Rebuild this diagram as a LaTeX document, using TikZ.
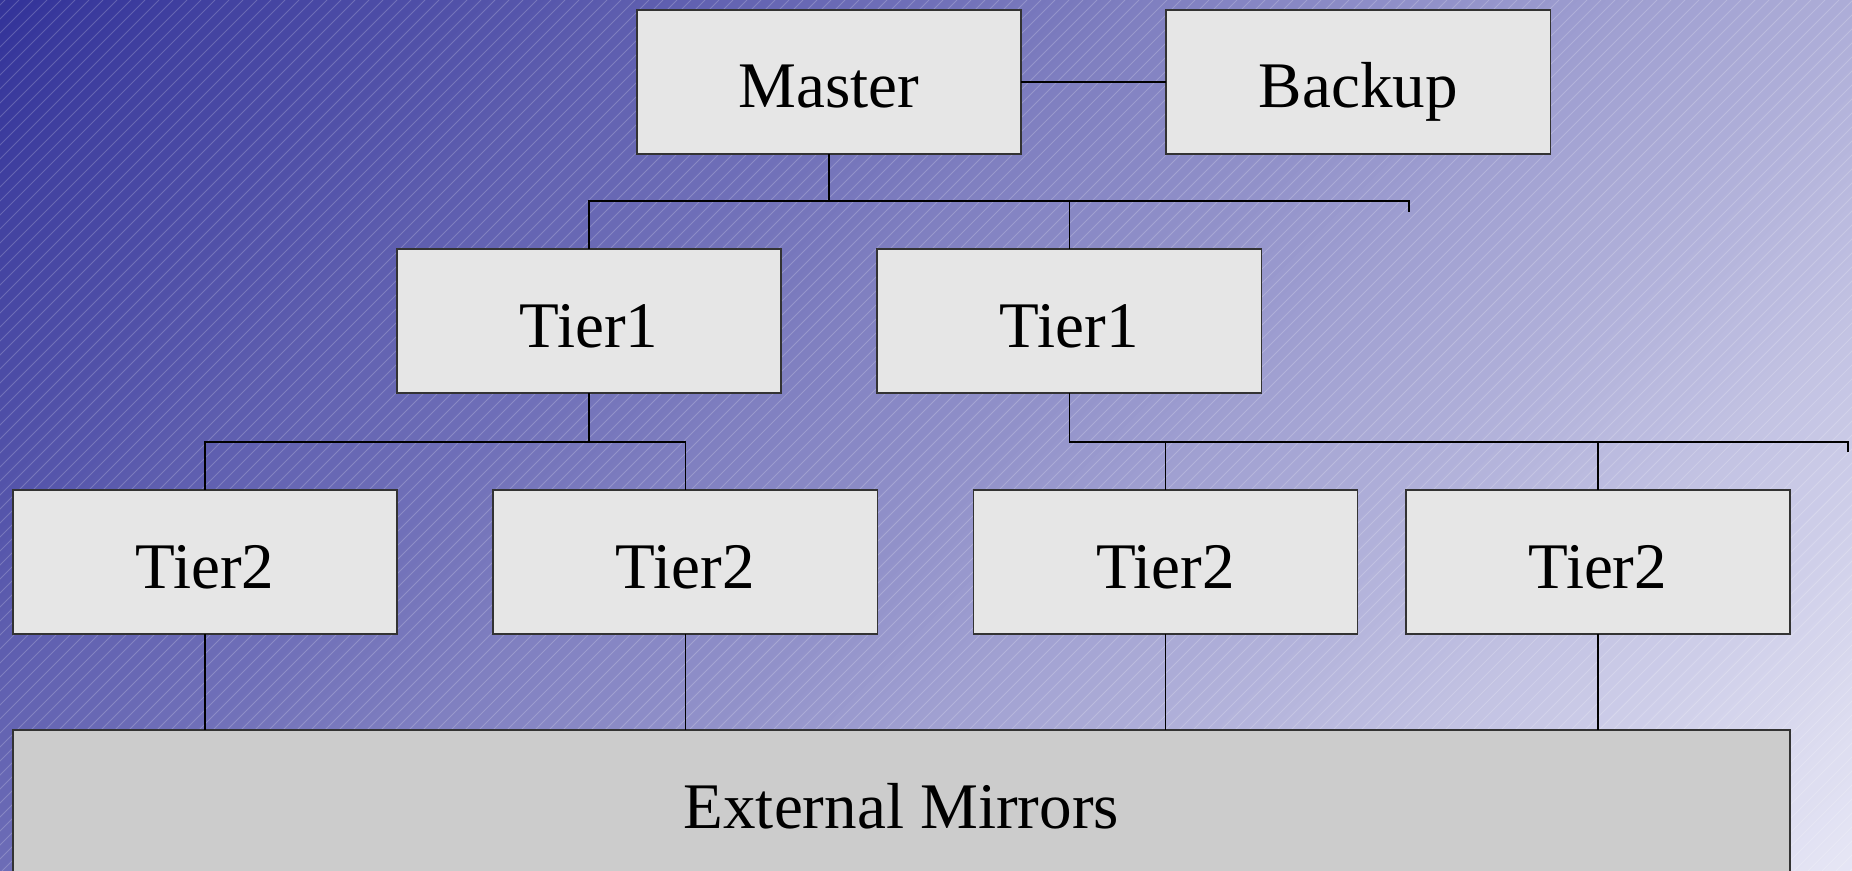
\documentclass[tikz,border=0pt]{standalone}
\usepackage{fontspec}
\setmainfont{Liberation Serif}
\usetikzlibrary{positioning}

\definecolor{bgDark}{HTML}{333399}
\definecolor{bgLight}{HTML}{E6E6F5}
\definecolor{boxFill}{HTML}{E6E6E6}
\definecolor{mirrorFill}{HTML}{CCCCCC}

\begin{document}
\begin{tikzpicture}[x=0.01cm, y=0.01cm, node distance=0.96cm,
  every node/.style={font=\fontsize{18.5}{22}\selectfont, align=center},
  box/.style={draw=black!80, line width=0.45pt, fill=boxFill, minimum width=3.84cm, minimum height=1.44cm, inner sep=0pt, outer sep=0pt, text height=0.68cm, text depth=0.16cm},
  link/.style={draw=black, line width=0.4pt},
  stripe/.style={white, opacity=0.2, line width=0.28pt}]
  \useasboundingbox (0,0) rectangle (1852,-871);

  % Background
  \begin{scope}
    \clip (0,0) rectangle (1852,-871);
    \foreach \i in {0,...,199} {
      \pgfmathsetmacro{\s}{\i*13.615}
      \pgfmathsetmacro{\p}{(\i+0.5)/2}
      \fill[bgLight!\p!bgDark] (\s-1,0) -- (\s+15,0) -- (\s+15-871,-871) -- (\s-1-871,-871) -- cycle;
    }
    \foreach \x in {-880,-866,...,1852}
      \draw[stripe] (\x,-871) -- ++(871,871);
  \end{scope}

  % Top row
  \node[box] (master) at (829,-82) {Master};
  \node[box, right=1.45cm of master] (backup) {Backup};

  % Tier1 row
  \node[box] (tierA1) at (589,-321) {Tier1};
  \node[box, right=of tierA1] (tierB1) {Tier1};

  % Tier2 row
  \node[box] (tierA2) at (205,-562) {Tier2};
  \node[box, right=of tierA2] (tierB2) {Tier2};
  \node[box, right=of tierB2] (tierC2) {Tier2};
  \node[box, right=0.48cm of tierC2] (tierD2) {Tier2};

  % Mirrors
  \node[box, fill=mirrorFill, minimum width=17.76cm, below=of tierA2.south west, anchor=north west] (mirrors) {External Mirrors};

  % Connectors
  \draw[link] (master) -- (backup);

  \path (master.south) ++(0,-47) coordinate (busM);
  \coordinate (busMend) at (1409,-212);
  \draw[link] (master.south) -- (busM);
  \draw[link] (tierA1.north) |- (busM);
  \draw[link] (tierB1.north) -- (tierB1.north |- busM);
  \draw[link] (busM) -| (busMend);

  \path (tierA1.south) ++(0,-49) coordinate (busA);
  \draw[link] (tierA1.south) -- (busA);
  \draw[link] (tierA2.north) |- (busA);
  \draw[link] (tierB2.north) |- (busA);

  \path (tierB1.south) ++(0,-49) coordinate (busB);
  \coordinate (busBend) at (1848,-452);
  \draw[link] (tierB1.south) -- (busB);
  \draw[link] (busB) -| (busBend);
  \draw[link] (tierC2.north) -- (tierC2.north |- busB);
  \draw[link] (tierD2.north) -- (tierD2.north |- busB);

  \foreach \t in {tierA2, tierB2, tierC2, tierD2}
    \draw[link] (\t.south) -- (\t.south |- mirrors.north);
\end{tikzpicture}
\end{document}
